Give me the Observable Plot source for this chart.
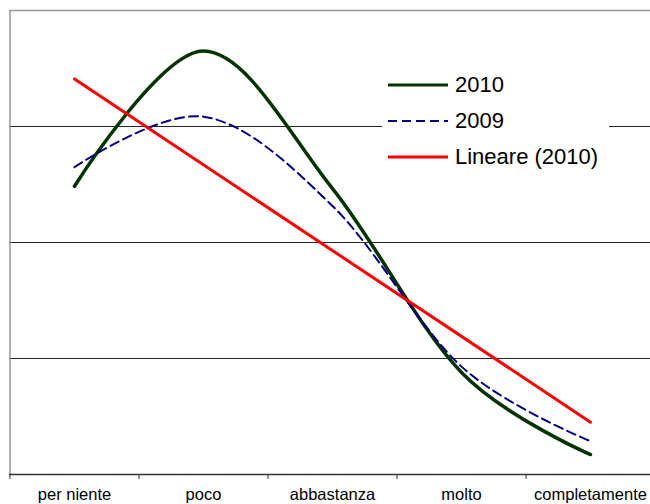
<!DOCTYPE html>
<html><head><meta charset="utf-8">
<script src="https://cdn.jsdelivr.net/npm/d3@7"></script>
<script src="https://cdn.jsdelivr.net/npm/@observablehq/plot@0.6"></script>
<style>
html,body{margin:0;padding:0;background:#fff;overflow:hidden;}
#wrap{position:relative;width:650px;height:504px;overflow:hidden;}
#legend{position:absolute;left:382px;top:66px;width:227px;height:110px;background:#fff;font-family:"Liberation Sans",Arial,sans-serif;font-size:22px;color:#000;}
.row{position:absolute;left:6px;height:36px;display:flex;align-items:center;white-space:nowrap;}
.row svg{margin-right:7px;}
</style></head><body><div id="wrap"></div>
<script>
const categories = ["per niente","poco","abbastanza","molto","completamente"];
const values2010 = [24.85, 36.5, 24.65, 8.8, 1.72];
const values2009 = [26.5, 30.85, 23.15, 9.3, 2.87];
const gridValues = [10, 20, 30];
const seriesNames = ["2010", "2009", "Lineare (2010)"];

const colors = {"2010": "#003300", "2009": "#000080", "Lineare (2010)": "#ff0000"};
const widths = {"2010": 3.5, "2009": 2, "Lineare (2010)": 3};
const dashes = {"2010": null, "2009": "9,5", "Lineare (2010)": null};

const data = categories.map((c, k) => ({i: k + 1, cat: c, v2010: values2010[k], v2009: values2009[k]}));
const boundaries = d3.range(categories.length + 1).map(k => k + 0.5);
const centers = d3.range(1, categories.length + 1);

const chart = Plot.plot({
  width: 650,
  height: 504,
  marginTop: 10,
  marginBottom: 30,
  marginLeft: 9,
  marginRight: 0,
  style: {fontFamily: "Liberation Sans, Arial, sans-serif", background: "#fff", overflow: "hidden"},
  x: {type: "linear", domain: [0.5, 5.5], range: [9.5, 654.5], label: null},
  y: {domain: [0, 40], axis: null, label: null},
  marks: [
    Plot.ruleY(gridValues, {stroke: "#000", strokeWidth: 1, strokeOpacity: 0.85}),
    Plot.ruleY([40], {stroke: "#999", strokeWidth: 1.5}),
    Plot.ruleX([0.5], {stroke: "#999", strokeWidth: 1.5}),
    Plot.ruleY([0], {stroke: "#333", strokeWidth: 1.5}),
    Plot.axisX(boundaries, {tickSize: 5, text: null, label: null, stroke: "#333"}),
    Plot.axisX(centers, {tickSize: 0, tickPadding: 14, label: null, tickFormat: i => categories[i - 1], fontSize: 16.5, fill: "#000"}),
    Plot.line(data, {x: "i", y: "v2010", curve: "cardinal", stroke: colors["2010"], strokeWidth: widths["2010"]}),
    Plot.line(data, {x: "i", y: "v2009", curve: "cardinal", stroke: colors["2009"], strokeWidth: widths["2009"], strokeDasharray: dashes["2009"]}),
    Plot.linearRegressionY(data, {x: "i", y: "v2010", ci: 0, stroke: colors["Lineare (2010)"], strokeWidth: widths["Lineare (2010)"]})
  ]
});

const wrap = document.getElementById("wrap");
wrap.appendChild(chart);

const legend = document.createElement("div");
legend.id = "legend";
seriesNames.forEach((name, k) => {
  const row = document.createElement("div");
  row.className = "row";
  row.style.top = (1 + k * 36) + "px";
  const dash = dashes[name] ? ` stroke-dasharray="${dashes[name]}"` : "";
  row.innerHTML = `<svg width="60" height="10"><line x1="0" x2="60" y1="5" y2="5" stroke="${colors[name]}" stroke-width="${name === "2009" ? 2 : 3}"${dash}/></svg><span>${name}</span>`;
  legend.appendChild(row);
});
wrap.appendChild(legend);
</script>
</body></html>
